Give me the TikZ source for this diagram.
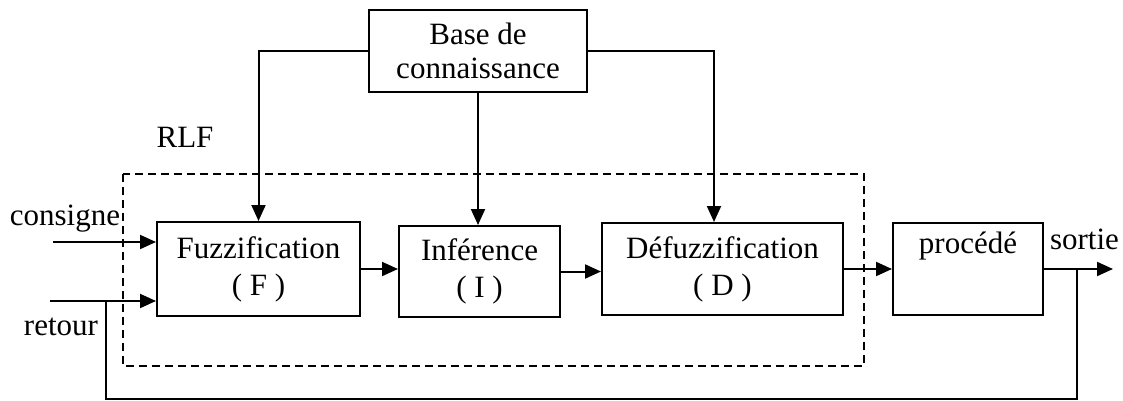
\documentclass[tikz,border=0pt]{standalone}
\usepackage{fontspec}
\setmainfont{Liberation Serif}
\usetikzlibrary{arrows.meta}

\begin{document}
\begin{tikzpicture}[x=0.5pt,y=-0.5pt,line width=1pt,
        blk/.style={draw,inner sep=0pt,align=center},
        lbl/.style={anchor=base,inner sep=0pt},
        >={Triangle[length=8pt,width=7pt]},
        font=\fontsize{15.5}{18.5}\selectfont]
                \useasboundingbox (0,0) rectangle (1123,401);
                % knowledge base
                \node[blk,minimum width=109pt,minimum height=41pt,
                      font=\fontsize{15.5}{17}\selectfont] (base) at (478,51) {Base de\\connaissance};
                % controller blocks
                \node[blk,minimum width=101.5pt,minimum height=47pt] (fuz) at (258.5,269) {Fuzzification\\( F )};
                \node[blk,minimum width=80.5pt,minimum height=45.5pt] (inf) at (479.5,271.5) {Inférence\\( I )};
                \node[blk,minimum width=120.5pt,minimum height=46pt] (defuz) at (722.5,269) {Défuzzification\\( D )};
                % plant
                \node[blk,minimum width=75pt,text height=15pt,text depth=31pt] (proc) at (968,269) {procédé};
                % RLF frame
                \draw[dash pattern=on 4pt off 2.5pt] (123,174) rectangle (864,366);
                \node[lbl] (rlf) at (185,148) {RLF};
                % inputs and output
                \coordinate (cin) at (53,242);
                \coordinate (rin) at (50,301);
                \coordinate (out) at (1113,269);
                \coordinate (tap) at (1077,269);
                \coordinate (low) at (106,399);
                \node[lbl] (lcons) at (65,225) {consigne};
                \node[lbl] (lret) at (61,335) {retour};
                \node[lbl] (lsort) at (1084.5,249) {sortie};
                % connectors
                \draw[->] (base.west) -| (fuz.north);
                \draw[->] (base.south) -- (base.south |- inf.north);
                \draw[->] (base.east) -| ([xshift=-4.25pt]defuz.north);
                \draw[->] (cin) -- (cin -| fuz.west);
                \draw[->] (rin) -- (rin -| fuz.west);
                \draw[->] (fuz.east) -- (fuz.east -| inf.west);
                \draw[->] (inf.east) -- (inf.east -| defuz.west);
                \draw[->] (defuz.east) -- (defuz.east -| proc.west);
                \draw[->] (proc.east) -- (out);
                % feedback
                \draw (tap) |- (low) -- (low |- rin);
\end{tikzpicture}
\end{document}
